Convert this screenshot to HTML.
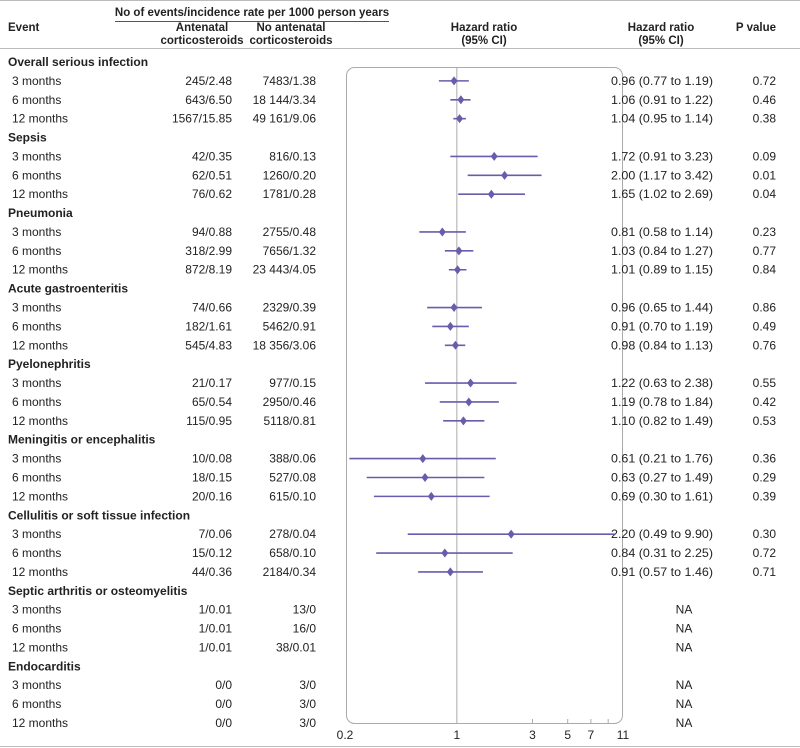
<!DOCTYPE html>
<html><head><meta charset="utf-8"><style>
html,body{margin:0;padding:0;background:#fff}
svg{display:block;font-family:"Liberation Sans",sans-serif}
</style></head><body>
<svg id="c" width="800" height="748" viewBox="0 0 800 748">
<line x1="0" y1="0.5" x2="800" y2="0.5" stroke="#bbb"/>
<line x1="0" y1="746.5" x2="800" y2="746.5" stroke="#bbb"/>
<g font-size="11.5" fill="#222">
<text x="252" y="16" text-anchor="middle" font-weight="bold">No of events/incidence rate per 1000 person years</text>
<line x1="115" y1="21.5" x2="389" y2="21.5" stroke="#555"/>
<text x="8" y="31" font-weight="bold">Event</text>
<text x="202" y="31" text-anchor="middle" font-weight="bold"><tspan x="202">Antenatal</tspan><tspan x="202" dy="13">corticosteroids</tspan></text>
<text x="291" y="31" text-anchor="middle" font-weight="bold"><tspan x="291">No antenatal</tspan><tspan x="291" dy="13">corticosteroids</tspan></text>
<text x="484" y="31" text-anchor="middle" font-weight="bold"><tspan x="484">Hazard ratio</tspan><tspan x="484" dy="13">(95% CI)</tspan></text>
<text x="661" y="31" text-anchor="middle" font-weight="bold"><tspan x="661">Hazard ratio</tspan><tspan x="661" dy="13">(95% CI)</tspan></text>
<text x="776" y="31" text-anchor="end" font-weight="bold">P value</text>
</g>
<line x1="0" y1="48.5" x2="800" y2="48.5" stroke="#bbb"/>
<rect x="346.5" y="67.5" width="276" height="656" rx="8" fill="none" stroke="#aaa"/>
<g id="plot"></g>
</svg>
<script>
const groups=["Overall serious infection","Sepsis","Pneumonia","Acute gastroenteritis","Pyelonephritis","Meningitis or encephalitis","Cellulitis or soft tissue infection","Septic arthritis or osteomyelitis","Endocarditis"];
const periods=["3 months","6 months","12 months"];
const antenatal=["245/2.48","643/6.50","1567/15.85","42/0.35","62/0.51","76/0.62","94/0.88","318/2.99","872/8.19","74/0.66","182/1.61","545/4.83","21/0.17","65/0.54","115/0.95","10/0.08","18/0.15","20/0.16","7/0.06","15/0.12","44/0.36","1/0.01","1/0.01","1/0.01","0/0","0/0","0/0"];
const noAntenatal=["7483/1.38","18 144/3.34","49 161/9.06","816/0.13","1260/0.20","1781/0.28","2755/0.48","7656/1.32","23 443/4.05","2329/0.39","5462/0.91","18 356/3.06","977/0.15","2950/0.46","5118/0.81","388/0.06","527/0.08","615/0.10","278/0.04","658/0.10","2184/0.34","13/0","16/0","38/0.01","3/0","3/0","3/0"];
const hr=[0.96,1.06,1.04,1.72,2.00,1.65,0.81,1.03,1.01,0.96,0.91,0.98,1.22,1.19,1.10,0.61,0.63,0.69,2.20,0.84,0.91,null,null,null,null,null,null];
const lo=[0.77,0.91,0.95,0.91,1.17,1.02,0.58,0.84,0.89,0.65,0.70,0.84,0.63,0.78,0.82,0.21,0.27,0.30,0.49,0.31,0.57,null,null,null,null,null,null];
const hi=[1.19,1.22,1.14,3.23,3.42,2.69,1.14,1.27,1.15,1.44,1.19,1.13,2.38,1.84,1.49,1.76,1.49,1.61,9.90,2.25,1.46,null,null,null,null,null,null];
const pval=["0.72","0.46","0.38","0.09","0.01","0.04","0.23","0.77","0.84","0.86","0.49","0.76","0.55","0.42","0.53","0.36","0.29","0.39","0.30","0.72","0.71","","","","","",""];
const tickVals=[0.2,1,3,5,7,9,11];
const tickLabels=["0.2","1","3","5","7","","11"];
const NS="http://www.w3.org/2000/svg";
const g=document.getElementById('plot');
const xMin=346,xMax=622,lMin=Math.log10(0.2),lMax=Math.log10(11);
function xs(v){return xMin+(Math.log10(v)-lMin)/(lMax-lMin)*(xMax-xMin);}
function rowY(i){return 62+i*18.886;}
function mk(tag,attrs,txt){const e=document.createElementNS(NS,tag);for(const k in attrs)e.setAttribute(k,attrs[k]);if(txt!==undefined)e.textContent=txt;g.appendChild(e);return e;}
const fmt=v=>v.toFixed(2);
const ref=mk('line',{x1:xs(1),x2:xs(1),y1:67.5,y2:723.5,stroke:'#aaa'});


let r=0;
groups.forEach((gn,gi)=>{
  const t=mk('text',{x:8,y:rowY(r)+4,'font-size':12,'font-weight':'bold',fill:'#222'},gn);
  
  
  r++;
  periods.forEach((p,pi)=>{
    const i=gi*3+pi,y=rowY(r)+4,cy=rowY(r);
    const a=mk('text',{x:12,y:y,'font-size':12,fill:'#222'},p);
    
    
    const b=mk('text',{x:232,y:y,'font-size':12,fill:'#222','text-anchor':'end'},antenatal[i]);
    
    
    const c=mk('text',{x:316,y:y,'font-size':12,fill:'#222','text-anchor':'end'},noAntenatal[i]);
    
    
    if(hr[i]!==null){
      const d=mk('text',{x:611,y:y,'font-size':12,fill:'#222','textLength':102,'lengthAdjust':'spacingAndGlyphs'},fmt(hr[i])+' ('+fmt(lo[i])+' to '+fmt(hi[i])+')');
      
      
      const e=mk('text',{x:776,y:y,'font-size':12,fill:'#222','text-anchor':'end'},pval[i]);
      
      
      const l=mk('line',{x1:xs(lo[i]),x2:xs(hi[i]),y1:cy,y2:cy,stroke:'#6a5bad','stroke-width':1.6});
      
      
      const x=xs(hr[i]);
      const m=mk('polygon',{points:`${x},${cy-4.5} ${x+3.5},${cy} ${x},${cy+4.5} ${x-3.5},${cy}`,fill:'#6a5bad'});
      
      
    } else {
      const d=mk('text',{x:684,y:y,'font-size':12,fill:'#222','text-anchor':'middle'},'NA');
      
      
    }
    r++;
  });
});
tickVals.forEach((v,k)=>{
  const x=xs(v);
  if(k>1&&k<6){const tk=mk('line',{x1:x,x2:x,y1:719,y2:723,stroke:'#aaa'});
    
    }
  if(tickLabels[k]){const tl=mk('text',{x:k==0?x-1:(k==6?x+1:x),y:739,'font-size':12,fill:'#222','text-anchor':'middle'},tickLabels[k]);
    
    }
});
</script>
</body></html>
